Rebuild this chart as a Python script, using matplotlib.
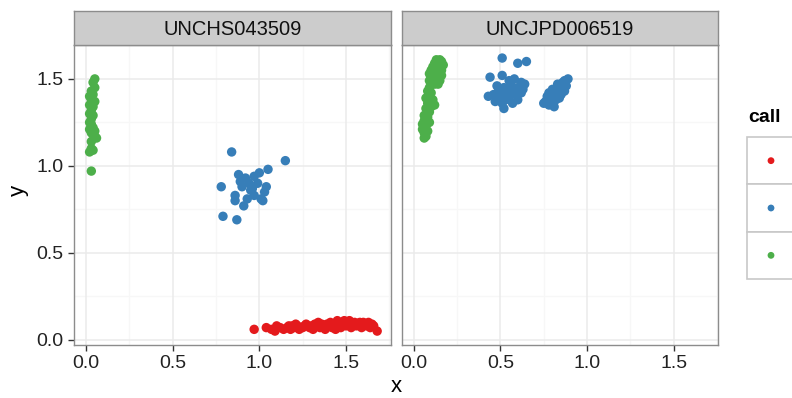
import matplotlib
matplotlib.use("Agg")
import matplotlib.pyplot as plt
from matplotlib.patches import Rectangle

plt.rcParams['font.family'] = ['Liberation Sans', 'DejaVu Sans']

RED, BLUE, GREEN = "#E41A1C", "#377EB8", "#4DAF4A"

panels = ["UNCHS043509", "UNCJPD006519"]

# --- UNCHS043509 ---
p1_red_x = [0.97, 1.04, 1.07, 1.09, 1.10, 1.12, 1.14, 1.16, 1.17, 1.18, 1.19, 1.20,
            1.21, 1.22, 1.23, 1.25, 1.26, 1.27, 1.29, 1.30, 1.31, 1.32, 1.33, 1.34,
            1.35, 1.36, 1.37, 1.38, 1.39, 1.40, 1.41, 1.42, 1.43, 1.44, 1.45, 1.45,
            1.46, 1.47, 1.48, 1.49, 1.50, 1.51, 1.52, 1.53, 1.54, 1.55, 1.56, 1.57,
            1.58, 1.59, 1.60, 1.61, 1.62, 1.63, 1.64, 1.65, 1.66, 1.68]
p1_red_y = [0.06, 0.07, 0.06, 0.05, 0.08, 0.07, 0.06, 0.07, 0.08, 0.06, 0.08, 0.07,
            0.09, 0.08, 0.06, 0.07, 0.08, 0.09, 0.07, 0.08, 0.06, 0.09, 0.08, 0.10,
            0.07, 0.09, 0.08, 0.06, 0.09, 0.08, 0.10, 0.07, 0.09, 0.06, 0.11, 0.08,
            0.10, 0.07, 0.09, 0.11, 0.08, 0.10, 0.11, 0.07, 0.09, 0.10, 0.08, 0.09,
            0.10, 0.07, 0.10, 0.09, 0.08, 0.10, 0.07, 0.09, 0.08, 0.05]
p1_blue_x = [0.84, 1.15, 1.05, 0.88, 0.92, 0.97, 1.00, 0.78, 0.90, 0.99, 1.04, 0.86,
             0.93, 1.01, 0.91, 0.86, 1.02, 0.79, 0.87, 0.95, 0.97, 0.94, 0.89, 0.96,
             1.03]
p1_blue_y = [1.08, 1.03, 0.98, 0.95, 0.93, 0.94, 0.96, 0.88, 0.88, 0.90, 0.88, 0.83,
             0.81, 0.81, 0.77, 0.80, 0.80, 0.71, 0.69, 0.86, 0.83, 0.90, 0.91, 0.87,
             0.85]
p1_green_x = [0.05, 0.04, 0.05, 0.03, 0.04, 0.02, 0.03, 0.05, 0.02, 0.04, 0.03, 0.02,
              0.04, 0.03, 0.02, 0.03, 0.04, 0.02, 0.03, 0.05, 0.04, 0.06, 0.05, 0.03,
              0.03, 0.02, 0.04, 0.03]
p1_green_y = [1.50, 1.48, 1.45, 1.43, 1.41, 1.40, 1.38, 1.37, 1.35, 1.34, 1.32, 1.30,
              1.29, 1.27, 1.25, 1.24, 1.22, 1.21, 1.19, 1.20, 1.18, 1.16, 1.17, 1.14,
              1.10, 1.08, 1.09, 0.97]

# --- UNCJPD006519 ---
p2_blue_x = [0.51, 0.60, 0.65, 0.44, 0.51, 0.55, 0.58, 0.62, 0.64, 0.48, 0.52, 0.56,
             0.60, 0.63, 0.50, 0.54, 0.57, 0.59, 0.62, 0.46, 0.43, 0.48, 0.52, 0.55,
             0.60, 0.47, 0.51, 0.53, 0.57, 0.52, 0.56, 0.49,
             0.89, 0.87, 0.85, 0.88, 0.83, 0.86, 0.80, 0.84, 0.87, 0.78, 0.81, 0.84,
             0.79, 0.77, 0.82, 0.76, 0.79, 0.75, 0.81, 0.78, 0.85, 0.83, 0.86]
p2_blue_y = [1.62, 1.59, 1.60, 1.51, 1.52, 1.49, 1.50, 1.48, 1.47, 1.46, 1.45, 1.46,
             1.45, 1.44, 1.43, 1.42, 1.43, 1.41, 1.42, 1.41, 1.40, 1.39, 1.40, 1.39,
             1.38, 1.37, 1.36, 1.38, 1.36, 1.33, 1.47, 1.44,
             1.50, 1.49, 1.47, 1.46, 1.45, 1.44, 1.44, 1.42, 1.43, 1.42, 1.41, 1.39,
             1.39, 1.40, 1.38, 1.37, 1.36, 1.36, 1.34, 1.35, 1.41, 1.47, 1.48]
p2_green_x = [0.13, 0.15, 0.12, 0.14, 0.16, 0.17, 0.11, 0.13, 0.15, 0.10, 0.12, 0.14,
              0.16, 0.09, 0.11, 0.13, 0.15, 0.10, 0.12, 0.14, 0.16, 0.09, 0.11, 0.13,
              0.15, 0.10, 0.12, 0.14, 0.09, 0.08, 0.10, 0.09, 0.07, 0.11, 0.08, 0.12,
              0.10, 0.07, 0.09, 0.06, 0.08, 0.06, 0.09, 0.05, 0.07, 0.05, 0.08, 0.06,
              0.07, 0.06]
p2_green_y = [1.61, 1.61, 1.59, 1.59, 1.60, 1.58, 1.57, 1.57, 1.57, 1.55, 1.55, 1.55,
              1.55, 1.53, 1.53, 1.53, 1.53, 1.51, 1.51, 1.51, 1.52, 1.49, 1.49, 1.49,
              1.49, 1.47, 1.47, 1.47, 1.45, 1.43, 1.42, 1.40, 1.39, 1.38, 1.36, 1.35,
              1.34, 1.33, 1.31, 1.29, 1.28, 1.26, 1.25, 1.24, 1.23, 1.21, 1.20, 1.19,
              1.17, 1.16]

series = [
    [(p1_red_x, p1_red_y, RED), (p1_blue_x, p1_blue_y, BLUE), (p1_green_x, p1_green_y, GREEN)],
    [(p2_blue_x, p2_blue_y, BLUE), (p2_green_x, p2_green_y, GREEN)],
]

W, H = 792, 398
fig = plt.figure(figsize=(W / 100, H / 100), dpi=100)

xticks = [0.0, 0.5, 1.0, 1.5]
yticks = [0.0, 0.5, 1.0, 1.5]
xminor = [0.25, 0.75, 1.25, 1.75]
yminor = [0.25, 0.75, 1.25]

lefts = [74, 401.7]
pw = 316.5
bottom_px, top_px = 345, 45
strip_h = 34

for i, name in enumerate(panels):
    ax = fig.add_axes([lefts[i] / W, 1 - bottom_px / H, pw / W, (bottom_px - top_px) / H])
    ax.set_xlim(-0.07, 1.757)
    ax.set_ylim(-0.03, 1.695)
    ax.set_facecolor("white")
    for v in xminor:
        ax.axvline(v, color="#f7f7f7", lw=0.9, zorder=0)
    for v in yminor:
        ax.axhline(v, color="#f7f7f7", lw=0.9, zorder=0)
    for v in xticks:
        ax.axvline(v, color="#ebebeb", lw=1.1, zorder=0)
    for v in yticks:
        ax.axhline(v, color="#ebebeb", lw=1.1, zorder=0)
    for xs, ys, c in series[i]:
        ax.scatter(xs, ys, s=46, color=c, edgecolors="none", zorder=3)
    for sp in ax.spines.values():
        sp.set_color("#8c8c8c")
        sp.set_linewidth(1.0)
    ax.set_xticks(xticks)
    ax.set_xticklabels([f"{v:.1f}" for v in xticks])
    ax.tick_params(axis="both", direction="out", length=4.5, width=1.0,
                   color="#333333", labelsize=14, labelcolor="#222222", pad=3)
    ax.set_yticks(yticks)
    if i == 0:
        ax.set_yticklabels([f"{v:.1f}" for v in yticks])
    else:
        ax.tick_params(axis="y", left=False, labelleft=False)

    # facet strip
    sax = fig.add_axes([lefts[i] / W, 1 - top_px / H, pw / W, strip_h / H])
    sax.set_facecolor("#cccccc")
    sax.set_xticks([])
    sax.set_yticks([])
    for sp in sax.spines.values():
        sp.set_color("#8c8c8c")
        sp.set_linewidth(1.0)
    sax.text(0.5, 0.47, name, ha="center", va="center", fontsize=14.5,
             color="#111111", transform=sax.transAxes)

fig.text(396 / W, 1 - 387 / H, "x", ha="center", va="center", fontsize=16)
fig.text(18 / W, 1 - 190 / H, "y", ha="center", va="center", fontsize=16, rotation=90)

# legend (keys only; the panel ends at the right edge)
fig.text(748 / W, 1 - 118 / H, "call", ha="left", va="center", fontsize=14,
         fontweight="bold")
lax = fig.add_axes([747 / W, 1 - 279 / H, 100 / W, 142 / H])
lax.set_xlim(0, 100)
lax.set_ylim(0, 142)
lax.axis("off")
key_h = 142 / 3
for k, c in enumerate([RED, BLUE, GREEN]):
    y0 = 142 - (k + 1) * key_h
    lax.add_patch(Rectangle((0, y0), 48, key_h, facecolor="white",
                            edgecolor="#c8c8c8", lw=1.2, clip_on=False))
    lax.scatter([24], [y0 + key_h / 2], s=24, color=c, edgecolors="none")

fig.savefig("out.png", dpi=100, facecolor="white")
